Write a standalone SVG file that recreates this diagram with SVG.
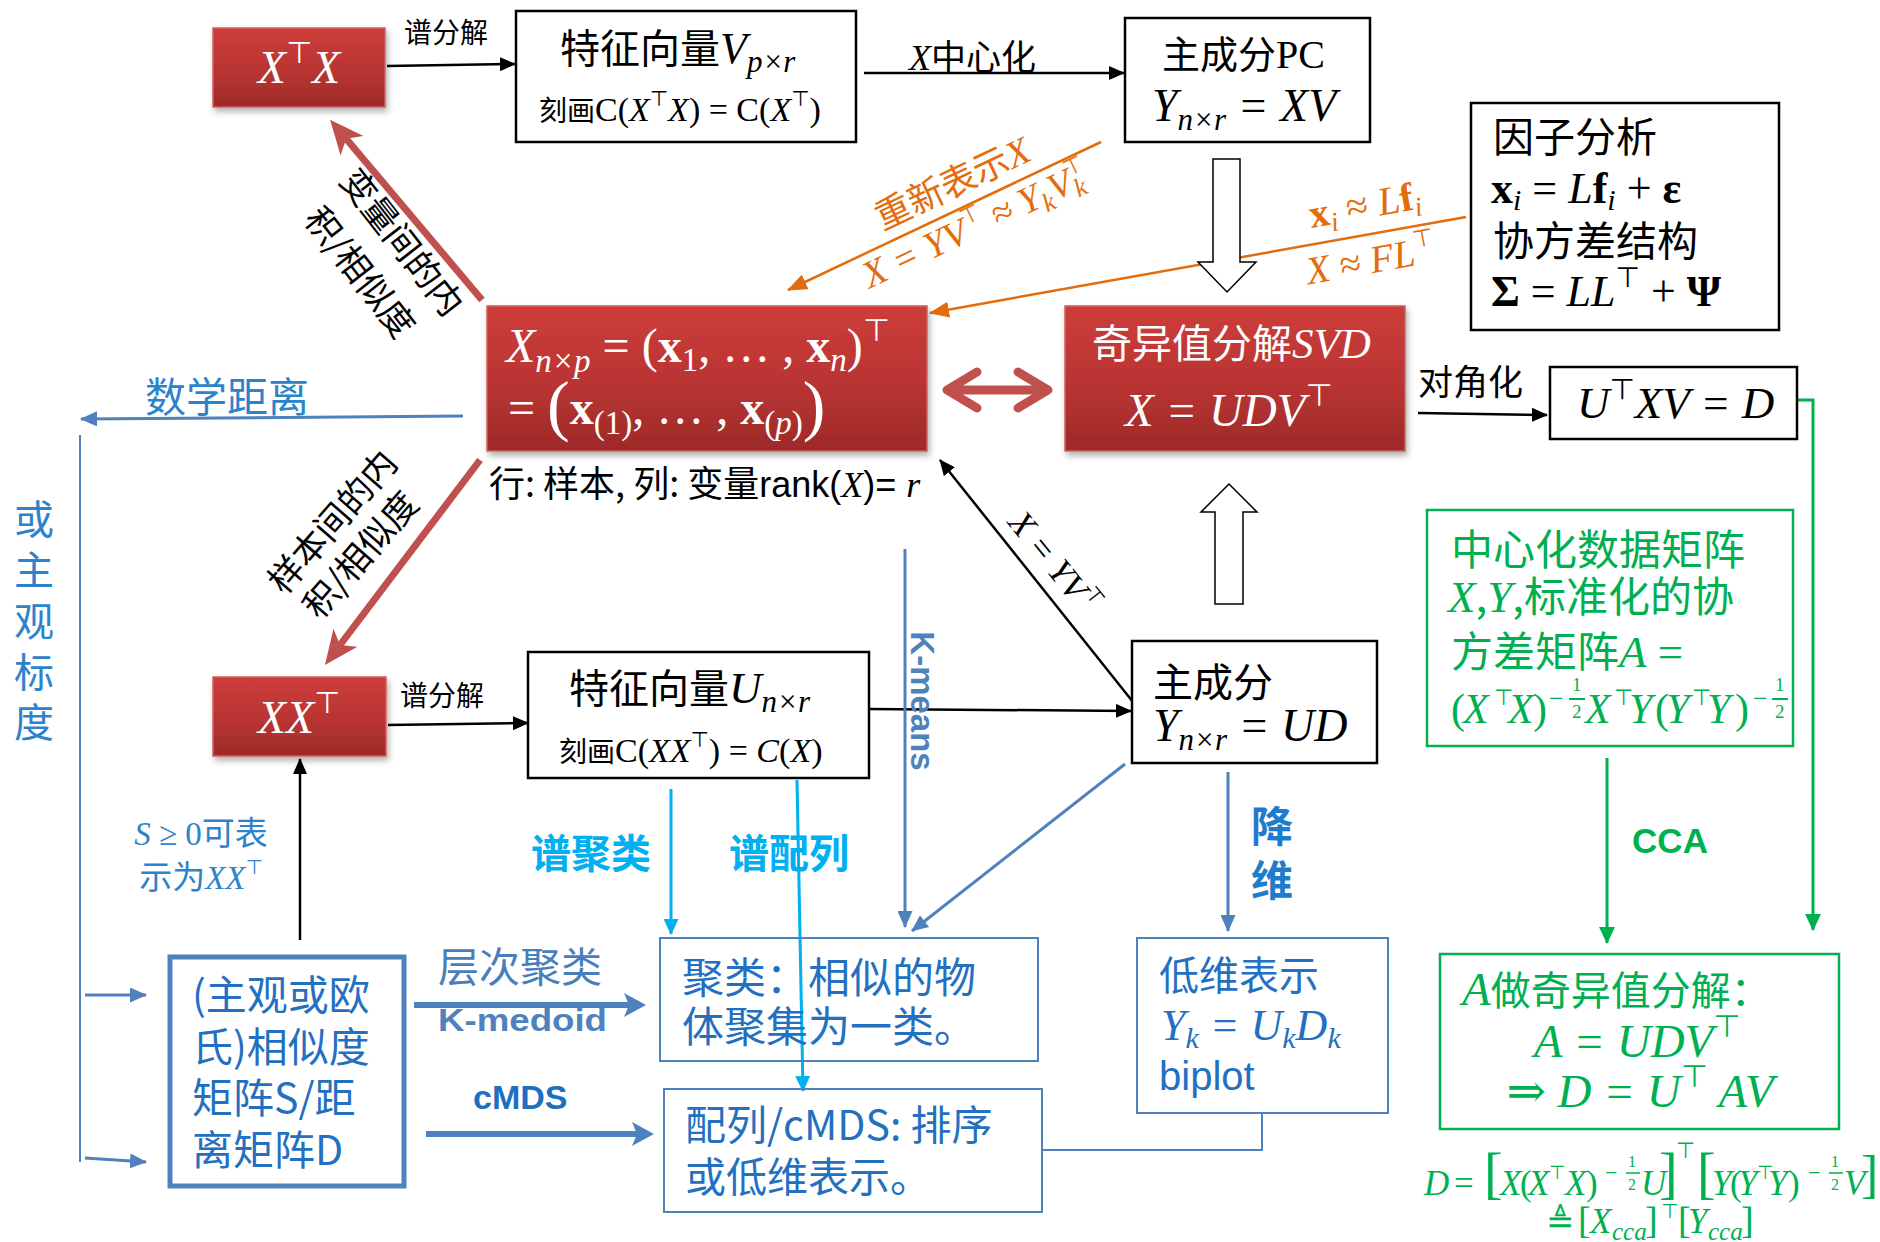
<svg xmlns="http://www.w3.org/2000/svg" width="1880" height="1242" viewBox="0 0 1880 1242">
<style>
text{font-family:"Noto Sans CJK SC",sans-serif}
.m{font-family:"Liberation Serif","DejaVu Serif","Noto Sans CJK SC",serif;font-style:italic}
.r{font-family:"Liberation Serif","DejaVu Serif","Noto Sans CJK SC",serif;font-style:normal}
.t{font-family:"DejaVu Sans",sans-serif;font-style:normal;font-weight:normal}
.sans{font-family:"Liberation Sans","Noto Sans CJK SC",sans-serif;font-style:normal}
.w{fill:#fff}
.g{fill:#00b050}
.or{fill:#e46c0a}
.bl{fill:#2c83cc}
.db{fill:#2470c0}
.lb{fill:#00b0f0;font-weight:bold}
.st{fill:#4f81bd}
.redbox{fill:url(#redg);stroke:#d2605c;stroke-width:1.5;filter:url(#sh)}
.box{fill:#fff;stroke:#000;stroke-width:2.5}
.sbox{fill:none;stroke:#4f81bd;stroke-width:2}
.gbox{fill:none;stroke:#00b050;stroke-width:2.5}
.ln{fill:none;stroke:#000;stroke-width:2.5}
.lo{fill:none;stroke:#e46c0a;stroke-width:2.5}
.ls{fill:none;stroke:#4f81bd;stroke-width:3}
.ll{fill:none;stroke:#00b0f0;stroke-width:3}
.lg{fill:none;stroke:#00b050;stroke-width:3}
.lr{fill:none;stroke:#c0504d;stroke-width:7}
</style>
<defs>
<linearGradient id="redg" x1="0" y1="0" x2="0" y2="1">
<stop offset="0" stop-color="#cd3d3a"/>
<stop offset="0.55" stop-color="#b93433"/>
<stop offset="1" stop-color="#9d2a28"/>
</linearGradient>
<filter id="sh" x="-10%" y="-10%" width="130%" height="140%">
<feDropShadow dx="2" dy="4" stdDeviation="3" flood-color="#000" flood-opacity="0.3"/>
</filter>
<marker id="mk" markerUnits="userSpaceOnUse" markerWidth="16" markerHeight="14" refX="15" refY="7" orient="auto"><path d="M0,0 L16,7 L0,14 z" fill="#000"/></marker>
<marker id="mo" markerUnits="userSpaceOnUse" markerWidth="20" markerHeight="16" refX="19" refY="8" orient="auto"><path d="M0,0 L20,8 L0,16 z" fill="#e46c0a"/></marker>
<marker id="ms" markerUnits="userSpaceOnUse" markerWidth="17" markerHeight="15" refX="16" refY="7.5" orient="auto"><path d="M0,0 L17,7.5 L0,15 z" fill="#4f81bd"/></marker>
<marker id="msb" markerUnits="userSpaceOnUse" markerWidth="22" markerHeight="24" refX="12" refY="12" orient="auto"><path d="M0,0 L22,12 L0,24 L5,12 z" fill="#4f81bd"/></marker>
<marker id="ml" markerUnits="userSpaceOnUse" markerWidth="16" markerHeight="15" refX="15" refY="7.5" orient="auto"><path d="M0,0 L16,7.5 L0,15 z" fill="#00b0f0"/></marker>
<marker id="mg" markerUnits="userSpaceOnUse" markerWidth="17" markerHeight="16" refX="16" refY="8" orient="auto"><path d="M0,0 L17,8 L0,16 z" fill="#00b050"/></marker>
<marker id="mr" markerUnits="userSpaceOnUse" markerWidth="34" markerHeight="30" refX="14" refY="15" orient="auto"><path d="M0,0 L34,15 L0,30 L9,15 z" fill="#c0504d"/></marker>
</defs>
<rect width="1880" height="1242" fill="#fff"/>

<g id="connectors">
<path class="ln" d="M387,66 L515,64" marker-end="url(#mk)"/>
<path class="ln" d="M864,73 L1124,73" marker-end="url(#mk)"/>
<path class="lo" d="M1101,142 L788,290" marker-end="url(#mo)"/>
<path class="lo" d="M1466,217 L930,313" marker-end="url(#mo)"/>
<path d="M1213,159 H1240 V262 H1256 L1227,292 L1198,262 H1213 Z" fill="#fff" stroke="#000" stroke-width="1.5"/>
<path d="M955,390 H1040" stroke="#c0504d" stroke-width="9" fill="none"/>
<path d="M977,372 L947,390 L977,408" stroke="#c0504d" stroke-width="9" fill="none" stroke-linecap="round" stroke-linejoin="round"/>
<path d="M1018,372 L1048,390 L1018,408" stroke="#c0504d" stroke-width="9" fill="none" stroke-linecap="round" stroke-linejoin="round"/>
<path class="ln" d="M1418,413 L1547,415" marker-end="url(#mk)"/>
<path class="lg" d="M1797,400 H1813 V930" marker-end="url(#mg)"/>
<path class="ls" d="M463,416 L81,419" marker-end="url(#ms)"/>
<path fill="none" stroke="#4f81bd" stroke-width="2" d="M80,435 V1162"/>
<path class="ls" d="M85,995 H146" marker-end="url(#ms)"/>
<path class="ls" d="M85,1158 L146,1162" marker-end="url(#ms)"/>
<path class="lr" d="M482,300 L343,135" marker-end="url(#mr)"/>
<path class="lr" d="M480,460 L337,649" marker-end="url(#mr)"/>
<path class="ln" d="M388,725 L528,723" marker-end="url(#mk)"/>
<path class="ln" d="M869,709 L1131,711" marker-end="url(#mk)"/>
<path class="ln" d="M1133,702 L940,460" marker-end="url(#mk)"/>
<path d="M1215,604 H1243 V512 H1257 L1229,484 L1201,512 H1215 Z" fill="#fff" stroke="#000" stroke-width="1.5"/>
<path class="lg" d="M1607,758 V943" marker-end="url(#mg)"/>
<path class="ln" d="M300,940 V759" marker-end="url(#mk)"/>
<path fill="none" stroke="#4f81bd" stroke-width="6" d="M414,1005 L636,1005" marker-end="url(#msb)"/>
<path fill="none" stroke="#4f81bd" stroke-width="6" d="M426,1134 L644,1134" marker-end="url(#msb)"/>
<path class="ll" d="M671,789 V934" marker-end="url(#ml)"/>
<path class="ll" d="M797,780 L803,1091" marker-end="url(#ml)"/>
<path class="ls" d="M905,549 V927" marker-end="url(#ms)"/>
<path class="ls" d="M1125,764 L912,931" marker-end="url(#ms)"/>
<path class="ls" d="M1228,772 V931" marker-end="url(#ms)"/>
<path fill="none" stroke="#4f81bd" stroke-width="2" d="M1042,1150 H1262 V1113"/>
</g>

<g id="edge-labels">
<text x="404" y="43" font-size="28">谱分解</text>
<text x="909" y="70"><tspan class="m" font-size="36">X</tspan><tspan font-size="35">中心化</tspan></text>
<text transform="translate(958,195) rotate(-25.3)" text-anchor="middle" font-size="36" class="or">重新表示<tspan class="m" font-size="38">X</tspan></text>
<text transform="translate(981,236) rotate(-25.3)" text-anchor="middle" class="m or" font-size="38">X = YV<tspan class="t" font-size="23" dy="-16">⊤</tspan><tspan dy="16"> ≈ Y</tspan><tspan font-size="26" dy="7">k</tspan><tspan dy="-7">V</tspan><tspan font-size="26" dy="7">k</tspan><tspan class="t" font-size="23" dy="-23" dx="-13">⊤</tspan></text>
<text transform="translate(1367,218) rotate(-10.2)" text-anchor="middle" font-size="40" class="r or"><tspan font-weight="bold">x</tspan><tspan class="m" font-size="27" dy="7">i</tspan><tspan dy="-7"> ≈ </tspan><tspan class="m">L</tspan><tspan font-weight="bold">f</tspan><tspan class="m" font-size="27" dy="7">i</tspan></text>
<text transform="translate(1373,273) rotate(-10.2)" text-anchor="middle" class="m or" font-size="39">X ≈ FL<tspan class="t" font-size="24" dy="-17">⊤</tspan></text>
<text x="1418" y="395" font-size="35">对角化</text>
<text x="145" y="412" font-size="41" class="bl">数学距离</text>
<text x="34" y="534" font-size="40" class="bl" text-anchor="middle">或<tspan x="34" dy="51">主</tspan><tspan x="34" dy="51">观</tspan><tspan x="34" dy="51">标</tspan><tspan x="34" dy="50">度</tspan></text>
<text transform="translate(392,250) rotate(52)" text-anchor="middle" font-size="35">变量间的内</text>
<text transform="translate(350,280) rotate(52)" text-anchor="middle" font-size="35">积/相似度</text>
<text transform="translate(342,530) rotate(-49)" text-anchor="middle" font-size="35">样本间的内</text>
<text transform="translate(370,563) rotate(-49)" text-anchor="middle" font-size="35">积/相似度</text>
<text x="400" y="706" font-size="28">谱分解</text>
<text transform="translate(1045,570) rotate(51)" text-anchor="middle" class="m" font-size="35">X = YV<tspan class="t" font-size="21" dy="-15">⊤</tspan></text>
<text x="201" y="845" text-anchor="middle" font-size="33" class="bl"><tspan class="m">S</tspan><tspan class="r"> ≥ 0</tspan>可表</text>
<text x="201" y="889" text-anchor="middle" font-size="33" class="bl">示为<tspan class="m">XX</tspan><tspan class="t" font-size="20" dy="-15">⊤</tspan></text>
<text x="531" y="868" font-size="40" class="lb">谱聚类</text>
<text x="729" y="868" font-size="40" class="lb">谱配列</text>
<text transform="translate(911,701) rotate(90)" text-anchor="middle" class="sans st" font-size="33" font-weight="bold">K-means</text>
<text x="1272" y="842" text-anchor="middle" font-size="42" font-weight="bold" style="fill:#1f7bcc">降</text>
<text x="1272" y="896" text-anchor="middle" font-size="42" font-weight="bold" style="fill:#1f7bcc">维</text>
<text x="1670" y="853" text-anchor="middle" class="sans g" font-size="35" font-weight="bold">CCA</text>
<text x="438" y="982" font-size="41" style="fill:#4a7ebb">层次聚类</text>
<text x="438" y="1031" class="sans st" font-size="32" font-weight="bold" textLength="169" lengthAdjust="spacingAndGlyphs">K-medoid</text>
<text x="473" y="1109" class="sans" font-size="34" font-weight="bold" style="fill:#1f6fc0">cMDS</text>
</g>

<g id="n-xtx">
<rect class="redbox" x="213" y="28" width="172" height="79"/>
<text x="299" y="83" text-anchor="middle" class="m w" font-size="46">X<tspan class="t" font-size="30" dy="-20">⊤</tspan><tspan dy="20">X</tspan></text>
</g>

<g id="n-v">
<rect class="box" x="516" y="11" width="340" height="131"/>
<text x="560" y="63" font-size="40">特征向量<tspan class="m" font-size="44">V</tspan><tspan class="m" font-size="31" dy="9">p×r</tspan></text>
<text x="539" y="121" font-size="28">刻画<tspan class="r" font-size="34">C(</tspan><tspan class="m" font-size="34">X</tspan><tspan class="t" font-size="21" dy="-15">⊤</tspan><tspan class="m" font-size="34" dy="15">X</tspan><tspan class="r" font-size="34">) = C(</tspan><tspan class="m" font-size="34">X</tspan><tspan class="t" font-size="21" dy="-15">⊤</tspan><tspan class="r" font-size="34" dy="15">)</tspan></text>
</g>

<g id="n-pc">
<rect class="box" x="1125" y="18" width="245" height="124"/>
<text x="1162" y="68" font-size="38">主成分<tspan class="r" font-size="40">PC</tspan></text>
<text x="1152" y="121" class="m" font-size="46">Y<tspan font-size="31" dy="9">n×r</tspan><tspan dy="-9"> = XV</tspan></text>
</g>

<g id="n-factor">
<rect class="box" x="1471" y="103" width="308" height="227"/>
<text x="1493" y="152" font-size="41">因子分析</text>
<text x="1491" y="203" class="r" font-size="44"><tspan font-weight="bold">x</tspan><tspan class="m" font-size="30" dy="7">i</tspan><tspan dy="-7"> = </tspan><tspan class="m">L</tspan><tspan font-weight="bold">f</tspan><tspan class="m" font-size="30" dy="7">i</tspan><tspan dy="-7"> + </tspan><tspan font-weight="bold">ε</tspan></text>
<text x="1493" y="256" font-size="41">协方差结构</text>
<text x="1491" y="306" class="r" font-size="44"><tspan font-weight="bold">Σ</tspan> = <tspan class="m">LL</tspan><tspan class="t" font-size="28" dy="-19">⊤</tspan><tspan dy="19"> + </tspan><tspan font-weight="bold">Ψ</tspan></text>
</g>

<g id="n-x">
<rect class="redbox" x="487" y="306" width="440" height="145"/>
<text x="506" y="362" class="r w" font-size="48"><tspan class="m">X</tspan><tspan class="m" font-size="33" dy="10">n×p</tspan><tspan dy="-10"> = (</tspan><tspan font-weight="bold">x</tspan><tspan font-size="33" dy="9">1</tspan><tspan dy="-9">, … , </tspan><tspan font-weight="bold">x</tspan><tspan class="m" font-size="33" dy="9">n</tspan><tspan dy="-9">)</tspan><tspan class="t" font-size="31" dy="-21">⊤</tspan></text>
<text x="508" y="424" class="r w" font-size="48">= <tspan font-size="68" dy="4">(</tspan><tspan font-weight="bold" dy="-4">x</tspan><tspan font-size="33" dy="10">(1)</tspan><tspan dy="-10">, … , </tspan><tspan font-weight="bold">x</tspan><tspan font-size="33" dy="10">(</tspan><tspan class="m" font-size="33">p</tspan><tspan font-size="33">)</tspan><tspan font-size="68" dy="-6">)</tspan></text>
<text x="489" y="497" font-size="36">行: 样本, 列: 变量<tspan class="sans">rank(</tspan><tspan class="m">X</tspan><tspan class="sans">)= </tspan><tspan class="m">r</tspan></text>
</g>

<g id="n-svd">
<rect class="redbox" x="1065" y="306" width="340" height="145"/>
<text x="1092" y="358" font-size="40" class="w">奇异值分解<tspan class="m" font-size="43">SVD</tspan></text>
<text x="1125" y="426" class="m w" font-size="47">X = UDV<tspan class="t" font-size="31" dy="-20">⊤</tspan></text>
</g>

<g id="n-utxv">
<rect class="box" x="1550" y="367" width="247" height="72"/>
<text x="1577" y="418" class="m" font-size="45">U<tspan class="t" font-size="29" dy="-19">⊤</tspan><tspan dy="19">XV = D</tspan></text>
</g>

<g id="n-xxt">
<rect class="redbox" x="213" y="677" width="173" height="79"/>
<text x="299" y="733" text-anchor="middle" class="m w" font-size="46">XX<tspan class="t" font-size="30" dy="-20">⊤</tspan></text>
</g>

<g id="n-u">
<rect class="box" x="528" y="652" width="341" height="126"/>
<text x="569" y="703" font-size="40">特征向量<tspan class="m" font-size="45">U</tspan><tspan class="m" font-size="31" dy="9">n×r</tspan></text>
<text x="559" y="762" font-size="28">刻画<tspan class="r" font-size="34">C(</tspan><tspan class="m" font-size="34">XX</tspan><tspan class="t" font-size="21" dy="-15">⊤</tspan><tspan class="r" font-size="34" dy="15">) = </tspan><tspan class="m" font-size="34">C</tspan><tspan class="r" font-size="34">(</tspan><tspan class="m" font-size="34">X</tspan><tspan class="r" font-size="34">)</tspan></text>
</g>

<g id="n-y">
<rect class="box" x="1132" y="641" width="245" height="122"/>
<text x="1153" y="697" font-size="40">主成分</text>
<text x="1153" y="741" class="m" font-size="46">Y<tspan font-size="31" dy="9">n×r</tspan><tspan dy="-9"> = UD</tspan></text>
</g>

<g id="n-cca-a">
<rect class="gbox" x="1427" y="510" width="366" height="236"/>
<text x="1451" y="565" font-size="42" class="g">中心化数据矩阵</text>
<text x="1448" y="612" font-size="42" class="g"><tspan class="m" font-size="45">X</tspan>,<tspan class="m" font-size="45">Y</tspan>,标准化的协</text>
<text x="1451" y="667" font-size="42" class="g">方差矩阵<tspan class="m" font-size="45">A</tspan><tspan class="r" font-size="45"> =</tspan></text>
<text class="g" font-size="42"><tspan class="r" x="1451" y="723">(</tspan><tspan class="m" x="1463" y="723">X</tspan><tspan class="t" x="1494" y="705" font-size="22">⊤</tspan><tspan class="m" x="1508" y="723">X</tspan><tspan class="r" x="1533" y="723">)</tspan><tspan class="r" x="1549" y="707" font-size="26">−</tspan><tspan class="r" x="1572" y="691" font-size="19">1</tspan><tspan class="r" x="1572" y="718" font-size="19">2</tspan><tspan class="m" x="1585" y="723">X</tspan><tspan class="t" x="1614" y="705" font-size="22">⊤</tspan><tspan class="m" x="1629" y="723">Y</tspan><tspan class="r" x="1655" y="723">(</tspan><tspan class="m" x="1666" y="723">Y</tspan><tspan class="t" x="1692" y="705" font-size="22">⊤</tspan><tspan class="m" x="1707" y="723">Y</tspan><tspan class="r" x="1735" y="723">)</tspan><tspan class="r" x="1753" y="707" font-size="26">−</tspan><tspan class="r" x="1775" y="691" font-size="19">1</tspan><tspan class="r" x="1775" y="718" font-size="19">2</tspan></text>
<path d="M1569,699 H1585 M1772,699 H1788" stroke="#00b050" stroke-width="2"/>
</g>

<g id="n-cca-svd">
<rect class="gbox" x="1440" y="954" width="399" height="175"/>
<text x="1462" y="1005" font-size="40" class="g"><tspan class="m" font-size="47">A</tspan>做奇异值分解：</text>
<text x="1637" y="1057" text-anchor="middle" class="m g" font-size="47">A = UDV<tspan class="t" font-size="31" dy="-20">⊤</tspan></text>
<text x="1640" y="1107" text-anchor="middle" class="m g" font-size="47"><tspan class="r">⇒ </tspan>D = U<tspan class="t" font-size="31" dy="-20">⊤</tspan><tspan dy="20"> AV</tspan></text>
</g>

<g id="n-cca-d">
<text class="g" font-size="35"><tspan class="m" x="1424" y="1195">D</tspan><tspan class="r" x="1454" y="1195">=</tspan><tspan class="r" x="1484" y="1192" font-size="56">[</tspan><tspan class="m" x="1500" y="1195">X</tspan><tspan class="r" x="1520" y="1195">(</tspan><tspan class="m" x="1528" y="1195">X</tspan><tspan class="t" x="1549" y="1179" font-size="19">⊤</tspan><tspan class="m" x="1565" y="1195">X</tspan><tspan class="r" x="1586" y="1195">)</tspan><tspan class="r" x="1605" y="1180" font-size="22">−</tspan><tspan class="r" x="1628" y="1167" font-size="16">1</tspan><tspan class="r" x="1628" y="1190" font-size="16">2</tspan><tspan class="m" x="1641" y="1195">U</tspan><tspan class="r" x="1659" y="1192" font-size="56">]</tspan><tspan class="t" x="1676" y="1158" font-size="22">⊤</tspan><tspan class="r" x="1697" y="1192" font-size="56">[</tspan><tspan class="m" x="1712" y="1195">Y</tspan><tspan class="r" x="1730" y="1195">(</tspan><tspan class="m" x="1738" y="1195">Y</tspan><tspan class="t" x="1757" y="1179" font-size="19">⊤</tspan><tspan class="m" x="1768" y="1195">Y</tspan><tspan class="r" x="1788" y="1195">)</tspan><tspan class="r" x="1808" y="1180" font-size="22">−</tspan><tspan class="r" x="1831" y="1167" font-size="16">1</tspan><tspan class="r" x="1831" y="1190" font-size="16">2</tspan><tspan class="m" x="1844" y="1195">V</tspan><tspan class="r" x="1861" y="1192" font-size="52">]</tspan></text>
<path d="M1626,1173 H1640 M1829,1173 H1843" stroke="#00b050" stroke-width="1.5"/>
<text class="g" font-size="35"><tspan class="r" x="1546" y="1233" font-size="34">≜</tspan><tspan class="r" x="1578" y="1233" font-size="38">[</tspan><tspan class="m" x="1590" y="1233">X</tspan><tspan class="m" x="1612" y="1240" font-size="25">cca</tspan><tspan class="r" x="1645" y="1233" font-size="38">]</tspan><tspan class="t" x="1661" y="1218" font-size="20">⊤</tspan><tspan class="r" x="1678" y="1233" font-size="38">[</tspan><tspan class="m" x="1688" y="1233">Y</tspan><tspan class="m" x="1708" y="1240" font-size="25">cca</tspan><tspan class="r" x="1741" y="1233" font-size="38">]</tspan></text>
</g>

<g id="n-sim">
<rect x="170" y="957" width="234" height="229" fill="#fff" stroke="#4f81bd" stroke-width="5"/>
<text x="192" y="1010" font-size="41" class="db">(主观或欧</text>
<text x="192" y="1062" font-size="41" class="db">氏)相似度</text>
<text x="192" y="1113" font-size="41" class="db">矩阵S/距</text>
<text x="192" y="1165" font-size="41" class="db">离矩阵D</text>
</g>

<g id="n-cluster">
<rect class="sbox" x="660" y="938" width="378" height="123"/>
<text x="682" y="993" font-size="42" class="db">聚类：相似的物</text>
<text x="682" y="1042" font-size="42" class="db">体聚集为一类。</text>
</g>

<g id="n-ordination">
<rect class="sbox" x="664" y="1089" width="378" height="123"/>
<text x="685" y="1140" font-size="41" class="db">配列/cMDS: 排序</text>
<text x="685" y="1192" font-size="41" class="db">或低维表示。</text>
</g>

<g id="n-lowdim">
<rect class="sbox" x="1137" y="938" width="251" height="175" style="fill:#fff"/>
<text x="1159" y="990" font-size="40" class="db">低维表示</text>
<text x="1161" y="1040" class="m db" font-size="44">Y<tspan font-size="30" dy="8">k</tspan><tspan dy="-8"> = U</tspan><tspan font-size="30" dy="8">k</tspan><tspan dy="-8">D</tspan><tspan font-size="30" dy="8">k</tspan></text>
<text x="1159" y="1090" class="sans db" font-size="40">biplot</text>
</g>
</svg>
